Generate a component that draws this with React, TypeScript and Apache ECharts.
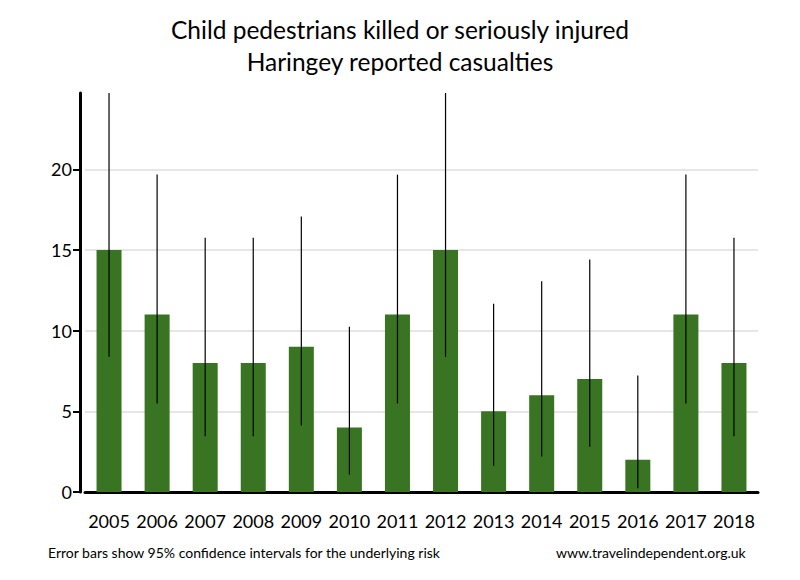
import React, { useEffect, useRef } from "react";
import * as echarts from "echarts";

const years = ["2005","2006","2007","2008","2009","2010","2011","2012","2013","2014","2015","2016","2017","2018"];
const casualties = [15, 11, 8, 8, 9, 4, 11, 15, 5, 6, 7, 2, 11, 8];
const ciLower = [8.39, 5.49, 3.45, 3.45, 4.12, 1.09, 5.49, 8.39, 1.62, 2.2, 2.81, 0.24, 5.49, 3.45];
const ciUpper = [24.74, 19.68, 15.76, 15.76, 17.08, 10.24, 19.68, 24.74, 11.67, 13.06, 14.42, 7.22, 19.68, 15.76];
const yTicks = [0, 5, 10, 15, 20];
const gridValues = [5, 10, 15, 20];
const yMax = 24.74;

const FONT = "Lato";

export default function App() {
  const ref = useRef<HTMLDivElement>(null);
  useEffect(() => {
    if (!ref.current) return;
    const chart = echarts.init(ref.current, null, { renderer: "svg" });
    chart.setOption({
      animation: false,
      backgroundColor: "#ffffff",
      title: {
        text: "Child pedestrians killed or seriously injured\nHaringey reported casualties",
        left: "center",
        top: 8,
        textStyle: { fontFamily: FONT, fontSize: 24.5, fontWeight: "normal", color: "#000", lineHeight: 32 },
      },
      grid: { left: 85, right: 42, top: 93, bottom: 88, containLabel: false },
      xAxis: {
        type: "category",
        data: years,
        axisLine: { lineStyle: { color: "#000", width: 3 } },
        axisTick: { show: false },
        axisLabel: { interval: 0, fontFamily: FONT, fontSize: 18, color: "#000", margin: 20 },
      },
      yAxis: {
        type: "value",
        min: 0,
        max: yMax,
        interval: 5,
        offset: 5,
        axisLine: { show: true, lineStyle: { color: "#000", width: 3 } },
        axisTick: { show: true, length: 7, lineStyle: { color: "#000", width: 2 }, customValues: yTicks },
        axisLabel: {
          fontFamily: FONT,
          fontSize: 18,
          color: "#000",
          margin: 8,
          formatter: (v: number) => (yTicks.indexOf(v) >= 0 ? String(v) : ""),
        },
        splitLine: { show: false },
      },
      series: [
        {
          type: "bar",
          data: casualties,
          barWidth: 25,
          itemStyle: { color: "#387422" },
          markLine: {
            silent: true,
            symbol: ["none", "none"],
            label: { show: false },
            lineStyle: { color: "#e6e6e6", width: 2, type: "solid" },
            data: gridValues.map((v) => ({ yAxis: v })),
            z: 0,
          },
          z: 2,
        },
        {
          type: "custom",
          data: years.map((_, i) => [i, ciLower[i], ciUpper[i]]),
          renderItem: (params: any, api: any) => {
            const p1 = api.coord([api.value(0), api.value(1)]);
            const p2 = api.coord([api.value(0), api.value(2)]);
            return {
              type: "line",
              shape: { x1: p1[0], y1: p1[1], x2: p2[0], y2: p2[1] },
              style: { stroke: "#000", lineWidth: 1.2 },
            };
          },
          clip: true,
          z: 3,
        },
      ],
      graphic: [
        {
          type: "text",
          left: 48,
          top: 545,
          style: { text: "Error bars show 95% confidence intervals for the underlying risk", fontFamily: FONT, fontSize: 14, fill: "#000" },
        },
        {
          type: "text",
          left: 556,
          top: 545,
          style: { text: "www.travelindependent.org.uk", fontFamily: FONT, fontSize: 14, fill: "#000" },
        },
      ],
    });
    return () => chart.dispose();
  }, []);
  return <div ref={ref} style={{ width: 800, height: 580, position: "absolute", left: 0, top: 0 }} />;
}
